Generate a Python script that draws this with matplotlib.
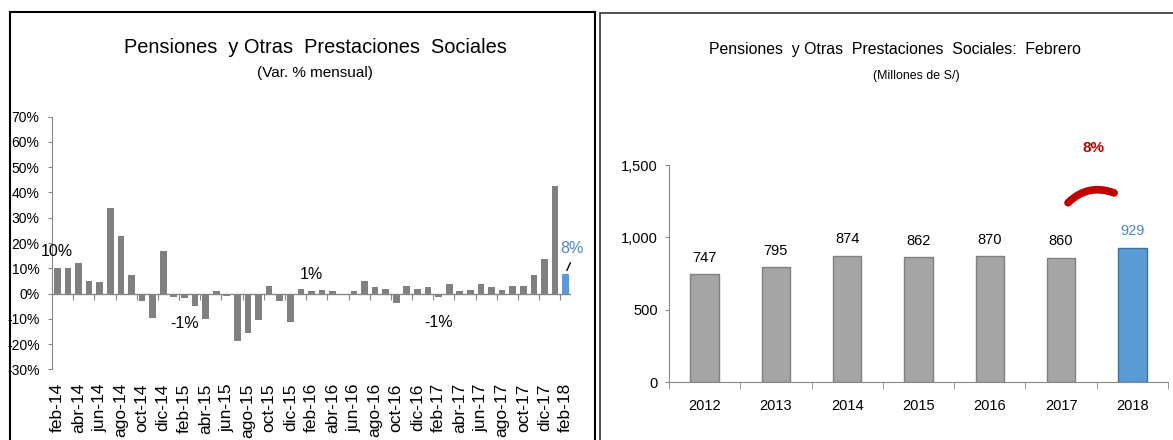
import matplotlib
matplotlib.use("Agg")
import matplotlib.pyplot as plt
from matplotlib import font_manager
from matplotlib.font_manager import FontProperties
from matplotlib.patches import Rectangle, FancyArrowPatch
import numpy as np

# ---------------- data ----------------
months = ["ene", "feb", "mar", "abr", "may", "jun", "jul", "ago", "sep", "oct", "nov", "dic"]
monthly_labels = []
for y in range(14, 19):
    for m in months:
        monthly_labels.append(f"{m}-{y}")
monthly_labels = monthly_labels[1:50]  # feb-14 .. feb-18

monthly_var = [10, 10.3, 12.1, 4.9, 4.4, 33.9, 22.7, 7.4, -3.1, -9.7, 16.8,
               -1.4, -1.9, -5.0, -10.2, 0.8, -0.8, -18.6, -15.7, -10.3, 3.1, -3.1, -11.4,
               1.9, 0.8, 1.3, 0.8, -0.6, 0.8, 4.9, 2.6, 1.9, -3.8, 3.1, 1.9,
               2.5, -1.4, 3.8, 0.8, 1.4, 3.8, 2.6, 1.4, 3.1, 3.1, 7.3, 13.8,
               42.7, 7.8]

# annotated points: (label, text, y position of text)
monthly_notes = [("feb-14", "10%", 16.5), ("feb-15", "-1%", -11.7),
                 ("feb-16", "1%", 7.6), ("feb-17", "-1%", -11.5)]

years = ["2012", "2013", "2014", "2015", "2016", "2017", "2018"]
feb_values = [747, 795, 874, 862, 870, 860, 929]
growth_label = "8%"

# ---------------- fonts ----------------
def find_liberation_narrow(bold=False):
    for f in font_manager.fontManager.ttflist:
        fn = f.fname.lower().replace(" ", "").replace("_", "").replace("-", "")
        if "liberationsansnarrow" in fn and f.style == "normal":
            isbold = "bold" in fn
            if isbold == bold:
                return f.fname
    return None

nfile = find_liberation_narrow()
nbfile = find_liberation_narrow(bold=True)
NARROW = FontProperties(fname=nfile) if nfile else FontProperties(family="Liberation Sans")
NARROW_B = FontProperties(fname=nbfile) if nbfile else FontProperties(family="Liberation Sans",
                                                                      weight="bold")
plt.rcParams["font.family"] = ["Liberation Sans", "DejaVu Sans"]

GRAY = "#808080"
GRAY2 = "#A5A5A5"
BLUE = "#5B9BD5"
BLUE_EDGE = "#41719C"
BLUE_TXT = "#4A86C8"
RED = "#C00000"
AX = "#868686"

W, H = 1173, 440
fig = plt.figure(figsize=(W / 100, H / 100), dpi=100)


def fitted_text(xpx, ypx, s, width_px, size, **kw):
    """place text and shrink its font size to fit the reference width"""
    fp = NARROW.copy()
    fp.set_size(size)
    t = fig.text(xpx / W, 1 - ypx / H, s, ha="center", va="center", fontproperties=fp, **kw)
    r = fig.canvas.get_renderer()
    w = t.get_window_extent(r).width
    if w > width_px:
        fp.set_size(size * width_px / w)
        t.set_fontproperties(fp)
    return t


# ---------------- left chart ----------------
axL = fig.add_axes([52 / W, (H - 369.3) / H, (571 - 52) / W, (369.3 - 116.7) / H])
n = len(monthly_var)
x = np.arange(n)
colors = [GRAY] * (n - 1) + [BLUE]
axL.bar(x, monthly_var, width=0.63, color=colors, zorder=2)
axL.set_xlim(-0.5, n - 0.5)
axL.set_ylim(-30, 70)
axL.set_yticks(np.arange(-30, 71, 10))
axL.set_yticklabels([f"{v}%" for v in range(-30, 71, 10)], fontsize=10)
axL.tick_params(axis="y", length=3, color=AX, pad=6)
for s in ["top", "right", "bottom"]:
    axL.spines[s].set_visible(False)
axL.spines["left"].set_color(AX)
axL.axhline(0, color=AX, lw=1, zorder=3)

even = x[::2]
axL.set_xticks(even)
axL.set_xticklabels([monthly_labels[i] for i in even], rotation=90, fontsize=12.5)
axL.tick_params(axis="x", length=0, pad=10)

sec = axL.secondary_xaxis(0.3)
sec.set_xticks(even[1:] - 0.5)
sec.set_xticklabels([])
sec.tick_params(axis="x", length=4, color=AX, direction="out")
sec.spines["bottom"].set_visible(False)

for lab, txt, ty in monthly_notes:
    i = monthly_labels.index(lab)
    axL.text(i, ty, txt, ha="center", va="center", fontsize=11.5)
axL.text(n - 1 + 0.6, 18, f"{monthly_var[-1]:.0f}%", ha="center", va="center",
         fontsize=11.5, color=BLUE_TXT)
axL.annotate("", xy=(n - 1, monthly_var[-1] + 0.3), xytext=(n - 1 + 0.55, 13.2),
             arrowprops=dict(arrowstyle="-", color="black", lw=1))

# ---------------- right chart ----------------
axR = fig.add_axes([669 / W, (H - 382) / H, (1168 - 669) / W, (382 - 165) / H])
xr = np.arange(len(years))
rc = [GRAY2] * (len(years) - 1) + [BLUE]
ec = [GRAY] * (len(years) - 1) + [BLUE_EDGE]
axR.bar(xr, feb_values, width=0.4, color=rc, edgecolor=ec, linewidth=1, zorder=2)
axR.set_xlim(-0.5, len(years) - 0.5)
axR.set_ylim(0, 1500)
fsR = 10.5 if nfile is None else 11.5
axR.set_yticks([0, 500, 1000, 1500])
axR.set_yticklabels(["0", "500", "1,000", "1,500"], fontproperties=NARROW, fontsize=fsR)
axR.set_xticks(xr)
axR.set_xticklabels(years, fontproperties=NARROW, fontsize=fsR)
axR.set_xticks(np.arange(-0.5, len(years)), minor=True)
axR.tick_params(axis="x", which="major", length=0, pad=12)
axR.tick_params(axis="x", which="minor", length=5, color=AX)
axR.tick_params(axis="y", length=3, color=AX, pad=5)
for s in ["top", "right"]:
    axR.spines[s].set_visible(False)
for s in ["left", "bottom"]:
    axR.spines[s].set_color(AX)
for i, v in enumerate(feb_values):
    axR.text(i, v + 65, f"{v}", ha="center", va="bottom", fontproperties=NARROW,
             fontsize=fsR, color=BLUE_TXT if i == len(years) - 1 else "black")

# growth arc and label between 2017 and 2018
arc = FancyArrowPatch((len(years) - 2 + 0.07, 1225), (len(years) - 2 + 0.78, 1300),
                      connectionstyle="arc3,rad=-0.35", arrowstyle="-", color=RED,
                      lw=5.5, capstyle="round", clip_on=False, zorder=5)
axR.add_patch(arc)
gfp = NARROW_B.copy()
gfp.set_size(11.5 if nbfile else 11)
axR.text(len(years) - 2 + 0.45, 1617, growth_label, ha="center", va="center",
         fontproperties=gfp, color=RED, clip_on=False)

# ---------------- titles ----------------
fitted_text(315, 47.5, "Pensiones  y Otras  Prestaciones  Sociales", 382, 20)
fitted_text(315, 73.5, "(Var. % mensual)", 116, 11)
fitted_text(894.5, 49.5, "Pensiones  y Otras  Prestaciones  Sociales:  Febrero", 372, 18)
fitted_text(916, 76.5, "(Millones de S/)", 86, 10)

# ---------------- panel frames ----------------
fig.patches.append(Rectangle((10 / W, -0.05), 585 / W, (H - 12) / H + 0.05,
                             transform=fig.transFigure, fill=False, ec="black", lw=1.5))
fig.patches.append(Rectangle((599.5 / W, -0.05), 600 / W, (H - 13) / H + 0.05,
                             transform=fig.transFigure, fill=False, ec="#303030", lw=1.2))

fig.savefig("out.png", dpi=100)
